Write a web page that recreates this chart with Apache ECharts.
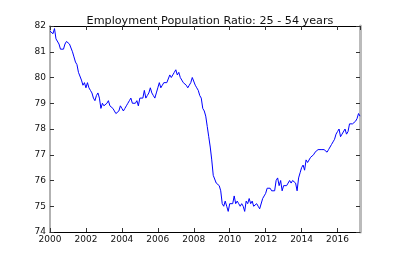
<!DOCTYPE html>
<html>
<head>
<meta charset="utf-8">
<script src="https://cdn.jsdelivr.net/npm/echarts@6/dist/echarts.min.js"></script>
<style>html,body{margin:0;padding:0;background:#fff}#c{width:400px;height:266px}</style>
</head>
<body>
<div id="c"></div>
<script>
var titleText = 'Employment Population Ratio: 25 - 54 years';
var startYear = 2000;
var xTicks = [2000, 2002, 2004, 2006, 2008, 2010, 2012, 2014, 2016];
var yTicks = [74, 75, 76, 77, 78, 79, 80, 81, 82];
var v2000 = [81.8, 81.8, 81.7, 81.9, 81.5, 81.5, 81.3, 81.1, 81.1, 81.1, 81.3, 81.4];
var v2001 = [81.4, 81.3, 81.3, 81.0, 80.8, 80.6, 80.5, 80.2, 80.2, 79.9, 79.7, 79.8];
var v2002 = [79.6, 79.8, 79.6, 79.5, 79.4, 79.2, 79.1, 79.3, 79.4, 79.2, 78.8, 79.0];
var v2003 = [78.9, 78.9, 79.0, 79.1, 78.9, 78.9, 78.8, 78.7, 78.6, 78.6, 78.7, 78.9];
var v2004 = [78.8, 78.7, 78.8, 78.9, 79.0, 79.1, 79.2, 79.0, 79.0, 79.0, 79.1, 78.9];
var v2005 = [79.2, 79.2, 79.2, 79.5, 79.2, 79.3, 79.4, 79.6, 79.4, 79.3, 79.2, 79.4];
var v2006 = [79.6, 79.8, 79.6, 79.7, 79.8, 79.8, 79.8, 79.8, 80.1, 80.0, 80.1, 80.2];
var v2007 = [80.3, 80.1, 80.2, 80.0, 79.9, 79.8, 79.8, 79.7, 79.6, 79.7, 79.8, 80.0];
var v2008 = [80.0, 79.7, 79.6, 79.5, 79.3, 79.2, 78.8, 78.7, 78.5, 78.1, 77.7, 77.3];
var v2009 = [76.8, 76.2, 76.2, 75.9, 75.9, 75.8, 75.6, 75.1, 75.0, 75.2, 75.0, 74.8];
var v2010 = [75.1, 75.1, 75.1, 75.4, 75.1, 75.2, 75.1, 75.0, 75.1, 75.0, 74.8, 75.2];
var v2011 = [75.1, 75.3, 75.1, 75.2, 75.0, 75.0, 75.1, 75.0, 74.9, 74.9, 75.3, 75.4];
var v2012 = [75.5, 75.7, 75.7, 75.7, 75.6, 75.6, 75.6, 76.0, 76.1, 75.8, 76.0, 75.6];
var v2013 = [75.8, 75.8, 75.8, 75.9, 76.0, 75.9, 76.0, 76.0, 75.9, 75.6, 76.1, 76.3];
var v2014 = [76.5, 76.6, 76.4, 76.8, 76.7, 76.7, 76.9, 76.9, 77.0, 77.1, 77.1, 77.2];
var v2015 = [77.2, 77.2, 77.2, 77.2, 77.2, 77.1, 77.2, 77.3, 77.4, 77.5, 77.6, 77.8];
var v2016 = [77.9, 78.0, 77.7, 77.8, 77.8, 78.0, 77.8, 77.9, 78.2, 78.2, 78.2, 78.2];
var v2017 = [78.3, 78.4, 78.6, 78.5];

var values = [].concat(v2000, v2001, v2002, v2003, v2004, v2005, v2006, v2007, v2008,
  v2009, v2010, v2011, v2012, v2013, v2014, v2015, v2016, v2017);
var points = values.map(function (v, i) { return [startYear + i / 12, v]; });
var xMax = startYear + (values.length - 1) / 12;

var font = 'DejaVu Sans';
var tickStyle = { show: true, inside: true, length: 4, lineStyle: { color: '#333', width: 1 } };
var chart = echarts.init(document.getElementById('c'), null, { renderer: 'canvas' });
chart.setOption({
  animation: false,
  backgroundColor: '#fff',
  title: {
    text: titleText, left: 205, top: 11, textAlign: 'center',
    textStyle: { fontFamily: font, fontSize: 11.2, fontWeight: 'normal', color: '#111' }
  },
  grid: { left: 50, right: 40, top: 26, bottom: 34, containLabel: false },
  xAxis: [{
    type: 'value', min: xTicks[0], max: xMax, interval: 2, position: 'bottom',
    axisLine: { show: true, lineStyle: { color: '#000', width: 1 } },
    axisTick: tickStyle, splitLine: { show: false },
    axisLabel: { show: true, margin: 3, fontFamily: font, fontSize: 9, color: '#111',
      showMaxLabel: false, formatter: function (v) { return xTicks.indexOf(v) >= 0 ? String(v) : ''; } }
  }, {
    type: 'value', min: xTicks[0], max: xMax, interval: 2, position: 'top',
    axisLine: { show: true, lineStyle: { color: '#000', width: 1 } },
    axisTick: tickStyle, splitLine: { show: false }, axisLabel: { show: false }
  }],
  yAxis: [{
    type: 'value', min: yTicks[0], max: yTicks[yTicks.length - 1], interval: 1, position: 'left',
    axisLine: { show: true, lineStyle: { color: '#999', width: 1.5 } },
    axisTick: tickStyle, splitLine: { show: false },
    axisLabel: { show: true, margin: 4, fontFamily: font, fontSize: 9, color: '#111' }
  }, {
    type: 'value', min: yTicks[0], max: yTicks[yTicks.length - 1], interval: 1, position: 'right',
    axisLine: { show: true, lineStyle: { color: '#bbb', width: 3 } },
    axisTick: tickStyle, splitLine: { show: false }, axisLabel: { show: false }
  }],
  series: [{
    type: 'line', data: points, xAxisIndex: 0, yAxisIndex: 0,
    showSymbol: false, symbol: 'none',
    lineStyle: { color: '#0000ff', width: 1 }
  }]
});
</script>
</body>
</html>
